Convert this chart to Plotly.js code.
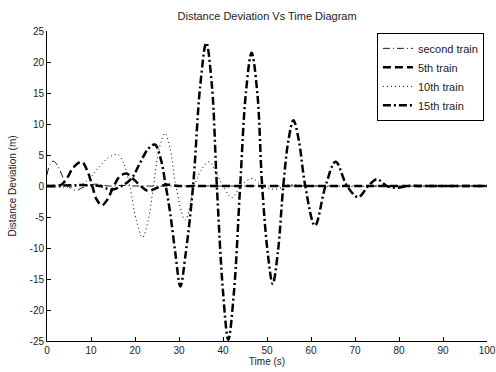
<!DOCTYPE html>
<html>
<head>
<meta charset="utf-8">
<script src="https://cdn.plot.ly/plotly-3.0.1.min.js"></script>
<style>html,body{margin:0;padding:0;background:#fff;}#chart{width:496px;height:372px;}</style>
</head>
<body>
<div id="chart"></div>
<script>
// Series names
var seriesNames = ["second train", "5th train", "10th train", "15th train"];

// second train
var tSecond = [0, 0.7, 1.5, 2.5, 3.5, 4.5, 6.5, 8.5, 11, 14, 17, 20, 25, 30, 100];
var vSecond = [1.8, 3.5, 4.0, 3.2, 1.6, 0.2, -0.7, -0.1, 0.3, 0, 0.1, 0, 0, 0, 0];

// 5th train
var tFifth = [0, 3, 4.5, 6, 7.9, 9.3, 10.3, 11.3, 12.5, 13.7, 15, 16.5, 18, 19.5, 21.3, 23, 25, 27, 30, 35, 100];
var vFifth = [0, 0.1, 1.2, 3.0, 3.9, 2.2, 0, -2.2, -3.1, -2.2, -0.3, 1.5, 2.0, 1.2, 0, -0.8, -0.3, 0.2, 0, 0, 0];

// 10th train
var tTenth = [0, 4, 8, 10, 12, 14, 16, 17.5, 18.8, 20.3, 21.7, 23, 24.2, 25.5, 26.8, 28, 29.3, 31.4, 33.5, 35, 36.8, 38.5, 40, 42, 44, 46.6, 49, 52, 55, 60, 100];
var vTenth = [0, -0.2, 0.3, 1.5, 3.2, 4.6, 5.1, 3.5, 0, -5.5, -8.3, -5.5, 0, 6, 8.5, 6, 0, -5.5, 0, 2.5, 3.9, 2.0, 0, -1.9, 0, 1.2, 0, -0.5, 0.2, 0, 0];

// 15th train
var tFifteenth = [0, 12, 14.5, 17, 19.3, 21, 23, 24.5, 25.8, 27, 28, 29.2, 30.3, 31.5, 33.2, 34.8, 36.2, 37.5, 38.6, 40, 41.2, 42.5, 43.9, 45.2, 46.5, 47.8, 48.9, 50.2, 51.3, 52.5, 53.7, 54.9, 56, 57.2, 58.7, 60.9, 63.3, 65.6, 68.2, 70.7, 73, 75, 77.2, 79.5, 82, 86, 100];
var vFifteenth = [0, 0, -0.6, 0, 1.3, 3.5, 6.0, 6.7, 4.5, 0, -4.4, -11, -16.2, -11, 0, 16, 23.1, 16, 0, -17, -24.8, -17, 0, 15, 21.5, 15, 0, -11, -15.8, -10.5, 0, 7.5, 10.6, 7.5, 0, -6.4, 0, 3.9, 0, -1.8, 0, 1.1, 0, -0.3, 0, 0, 0];

// Axis ticks
var xTicks = [0, 10, 20, 30, 40, 50, 60, 70, 80, 90, 100];
var yTicks = [-25, -20, -15, -10, -5, 0, 5, 10, 15, 20, 25];

var FONT = "Liberation Sans, Arial, Helvetica, sans-serif";
var TXT = "#222";

var traces = [
  {x: tSecond, y: vSecond, name: seriesNames[0], mode: "lines",
   line: {color: "#000", width: 0.9, dash: "7px,3px,1px,3px", shape: "spline", smoothing: 1}},
  {x: tFifth, y: vFifth, name: seriesNames[1], mode: "lines",
   line: {color: "#000", width: 2.5, dash: "8px,4px", shape: "spline", smoothing: 1}},
  {x: tTenth, y: vTenth, name: seriesNames[2], mode: "lines",
   line: {color: "#000", width: 1, dash: "1px,3px", shape: "spline", smoothing: 1}},
  {x: tFifteenth, y: vFifteenth, name: seriesNames[3], mode: "lines",
   line: {color: "#000", width: 2.5, dash: "8px,3px,2px,3px", shape: "spline", smoothing: 1}}
];

var layout = {
  width: 496, height: 372,
  margin: {l: 47, r: 9, t: 31, b: 31, pad: 0},
  paper_bgcolor: "#fff", plot_bgcolor: "#fff",
  font: {family: FONT, size: 10, color: TXT},
  title: {text: "Distance Deviation Vs Time Diagram", font: {family: FONT, size: 11, color: TXT},
          x: 0.5385, xanchor: "center", y: 0.957, yanchor: "middle"},
  showlegend: true,
  legend: {x: 0.993, y: 0.994, xanchor: "right", yanchor: "top",
           bgcolor: "#fff", bordercolor: "#000", borderwidth: 1,
           font: {family: FONT, size: 11, color: TXT}, itemwidth: 30, tracegroupgap: 0},
  xaxis: {range: [0, 100], tickvals: xTicks, ticktext: xTicks.map(String),
          ticks: "inside", ticklen: 4, tickcolor: "#000", showline: true, linecolor: "#000", linewidth: 1,
          mirror: false, showgrid: false, zeroline: false, automargin: false,
          tickfont: {family: FONT, size: 10, color: TXT},
          title: {text: "Time (s)", font: {family: FONT, size: 10, color: TXT}, standoff: 2}},
  yaxis: {range: [-25, 25], tickvals: yTicks, ticktext: yTicks.map(String),
          ticks: "inside", ticklen: 4, tickcolor: "#000", showline: true, linecolor: "#000", linewidth: 1,
          mirror: false, showgrid: false, zeroline: false, automargin: false,
          tickfont: {family: FONT, size: 10, color: TXT},
          title: {text: "Distance Deviation (m)", font: {family: FONT, size: 10, color: TXT}, standoff: 11}}
};

Plotly.newPlot("chart", traces, layout, {displayModeBar: false, staticPlot: true});
</script>
</body>
</html>
